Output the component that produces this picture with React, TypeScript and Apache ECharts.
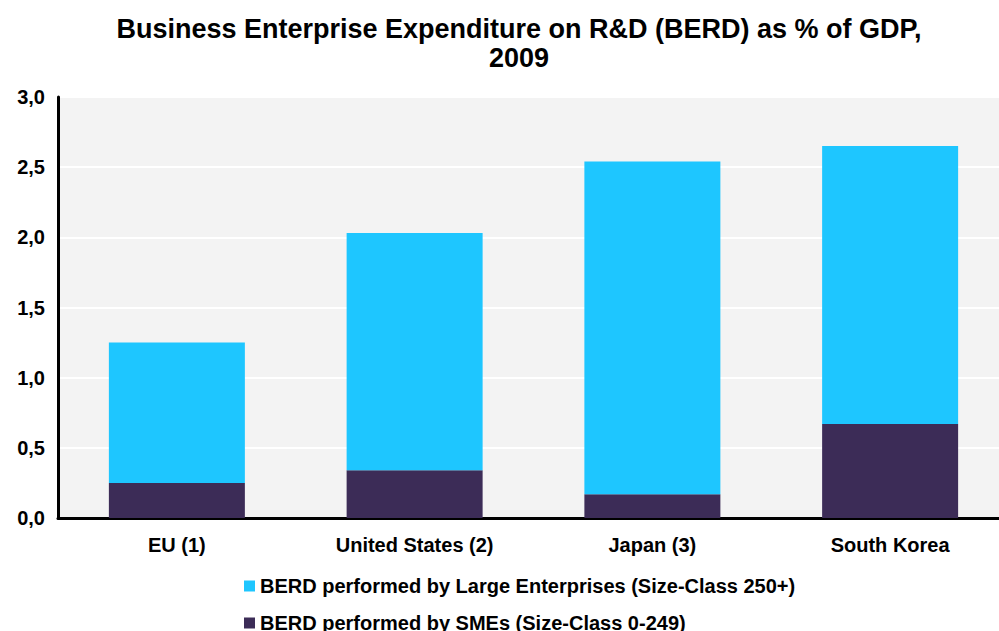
import React, { useEffect, useRef } from "react";
import * as echarts from "echarts";

const categories = ["EU (1)", "United States (2)", "Japan (3)", "South Korea"];
const smeValues = [0.25, 0.34, 0.17, 0.67];
const largeValues = [1.0, 1.69, 2.37, 1.98];
const largeName = "BERD performed by Large Enterprises (Size-Class 250+)";
const smeName = "BERD performed by SMEs (Size-Class 0-249)";

export default function App() {
  const ref = useRef<HTMLDivElement>(null);
  useEffect(() => {
    const chart = echarts.init(ref.current!, null, { renderer: "svg" });
    const font = "Arial, 'Liberation Sans', sans-serif";
    const legendText = { fontSize: 20, fontWeight: "bold", color: "#000", fontFamily: font };
    chart.setOption({
      animation: false,
      backgroundColor: "#ffffff",
      textStyle: { fontFamily: font },
      title: {
        text: "Business Enterprise Expenditure on R&D (BERD) as % of GDP,\n2009",
        left: 514,
        top: 9,
        textAlign: "center",
        textStyle: { fontSize: 27, fontWeight: "bold", color: "#000", lineHeight: 29, fontFamily: font },
      },
      legend: [
        {
          left: 239,
          top: 571,
          itemWidth: 11,
          itemHeight: 11,
          itemGap: 4,
          icon: "rect",
          data: [largeName],
          textStyle: legendText,
        },
        {
          left: 239,
          top: 608,
          itemWidth: 11,
          itemHeight: 11,
          itemGap: 4,
          icon: "rect",
          data: [smeName],
          textStyle: legendText,
        },
      ],
      grid: {
        left: 58,
        right: -10,
        top: 97,
        bottom: 113,
        show: true,
        backgroundColor: "#f3f3f3",
        borderWidth: 0,
        containLabel: false,
        outerBoundsMode: "none",
      },
      xAxis: {
        type: "category",
        data: categories,
        axisLine: { show: true, lineStyle: { color: "#000", width: 3 } },
        axisTick: { show: false },
        axisLabel: { fontSize: 20, fontWeight: "bold", color: "#000", margin: 17, fontFamily: font },
      },
      yAxis: {
        type: "value",
        min: 0,
        max: 3,
        interval: 0.5,
        axisLine: { show: true, lineStyle: { color: "#000", width: 3 } },
        axisTick: { show: false },
        splitLine: { show: true, lineStyle: { color: "#ffffff", width: 2 } },
        axisLabel: {
          fontSize: 20,
          fontWeight: "bold",
          color: "#000",
          margin: 13,
          fontFamily: font,
          formatter: (v: number) => v.toFixed(1).replace(".", ","),
        },
      },
      series: [
        {
          name: smeName,
          type: "bar",
          stack: "total",
          data: smeValues,
          barWidth: "57.2%",
          itemStyle: { color: "#3c2c57" },
        },
        {
          name: largeName,
          type: "bar",
          stack: "total",
          data: largeValues,
          barWidth: "57.2%",
          itemStyle: { color: "#1ec6ff" },
        },
      ],
    });
    return () => chart.dispose();
  }, []);
  return <div ref={ref} style={{ width: 999, height: 631, position: "absolute", left: 0, top: 0 }} />;
}
